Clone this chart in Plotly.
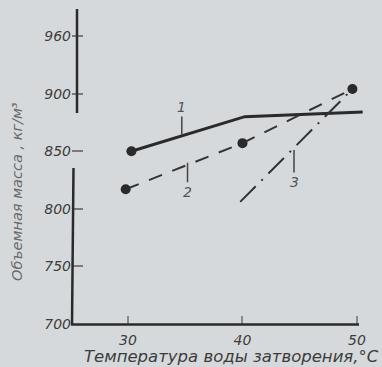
import plotly.graph_objects as go

# ---- data ----
line1_x = [30.3, 40.2, 50.5]
line1_y = [850, 880, 884]

line2_x = [29.8, 40.0, 49.6]
line2_y = [817, 857, 904]

line3_x = [39.8, 49.6]
line3_y = [806, 904]

x_tick_vals = [30, 40, 50]
x_tick_text = ["30", "40", "50"]
y_tick_vals = [700, 750, 800, 850, 900, 950]
y_tick_text = ["700", "750", "800", "850", "900", "960"]

curve_labels = ["1", "2", "3"]
label_anchor_x = [34.7, 35.2, 44.5]
label_anchor_y = [864, 840, 851]
label_offset_y = [-28, 29, 32]

x_title = "Температура воды затворения,°C"
y_title = "Объемная масса , кг/м³"

BG = "#d6d9db"
INK = "#2a2a2a"
TXT = "#3c3c3c"
FONT = "DejaVu Sans"

W, H = 382, 367
L, R, T, B = 72, 17, 10, 43
pw, ph = W - L - R, H - T - B


def px(xp):
    return (xp - L) / pw


def py(yp):
    return (H - B - yp) / ph


fig = go.Figure()

fig.add_trace(go.Scatter(
    x=line1_x, y=line1_y, mode="lines",
    line=dict(color=INK, width=3),
    showlegend=False, cliponaxis=False,
))
fig.add_trace(go.Scatter(
    x=line1_x[:1], y=line1_y[:1], mode="markers",
    marker=dict(size=10, color=INK, line=dict(width=0)),
    showlegend=False, cliponaxis=False,
))
fig.add_trace(go.Scatter(
    x=line2_x, y=line2_y, mode="lines+markers",
    line=dict(color="#333333", width=2, dash="14px,11px"),
    marker=dict(size=10, color=INK, line=dict(width=0)),
    showlegend=False, cliponaxis=False,
))
fig.add_trace(go.Scatter(
    x=line3_x, y=line3_y, mode="lines",
    line=dict(color="#333333", width=2, dash="22px,8px,2px,8px"),
    showlegend=False, cliponaxis=False,
))

for t, ax_, ay_, oy in zip(curve_labels, label_anchor_x, label_anchor_y, label_offset_y):
    fig.add_annotation(
        x=ax_, y=ay_, text=t, showarrow=True, arrowhead=0, arrowwidth=1.5,
        arrowcolor="#444444", ax=0, ay=oy,
        font=dict(family=FONT, size=14, color="#555555", style="italic"),
    )

# axis titles
fig.add_annotation(
    x=px(231), y=py(356), xref="paper", yref="paper", text=x_title, showarrow=False,
    xanchor="center", yanchor="middle",
    font=dict(family=FONT, size=16.5, color=TXT, style="italic"),
)
fig.add_annotation(
    text=y_title, showarrow=False, textangle=-90,
    xref="paper", yref="paper", x=px(17), y=py(192),
    xanchor="center", yanchor="middle",
    font=dict(family=FONT, size=14.5, color="#6a6a6a", style="italic"),
)

shapes = [
    dict(type="line", xref="paper", yref="paper", x0=px(71), x1=px(359), y0=py(324.5), y1=py(324.5),
         line=dict(color=INK, width=2.5)),
    dict(type="line", xref="paper", yref="paper", x0=px(72), x1=px(73.5), y0=py(325), y1=py(168),
         line=dict(color=INK, width=2.5)),
    dict(type="line", xref="paper", yref="paper", x0=px(77), x1=px(77), y0=py(113), y1=py(9),
         line=dict(color=INK, width=2.5)),
]

fig.update_layout(
    width=W, height=H,
    margin=dict(l=L, r=R, t=T, b=B, autoexpand=False),
    paper_bgcolor=BG, plot_bgcolor=BG,
    shapes=shapes,
    font=dict(family=FONT, color=TXT),
)

fig.update_xaxes(
    range=[25.11, 50.70], showgrid=False, zeroline=False, showline=False,
    tickvals=x_tick_vals, ticktext=x_tick_text, automargin=False,
    ticks="inside", ticklen=8, tickwidth=1.5, tickcolor="#8a8a8a",
    ticklabelstandoff=6,
    tickfont=dict(family=FONT, size=14, color=TXT, style="italic"),
)
fig.update_yaxes(
    range=[700, 972.6], showgrid=False, zeroline=False, showline=False,
    tickvals=y_tick_vals, ticktext=y_tick_text, automargin=False,
    ticks="inside", ticklen=11, tickwidth=1.5, tickcolor="#7a7a7a",
    tickfont=dict(family=FONT, size=14, color=TXT, style="italic"),
)

fig.write_html(
    "out.html",
    config={"displayModeBar": False},
    post_script="document.body.style.margin='0';document.body.style.background='" + BG + "';",
)
